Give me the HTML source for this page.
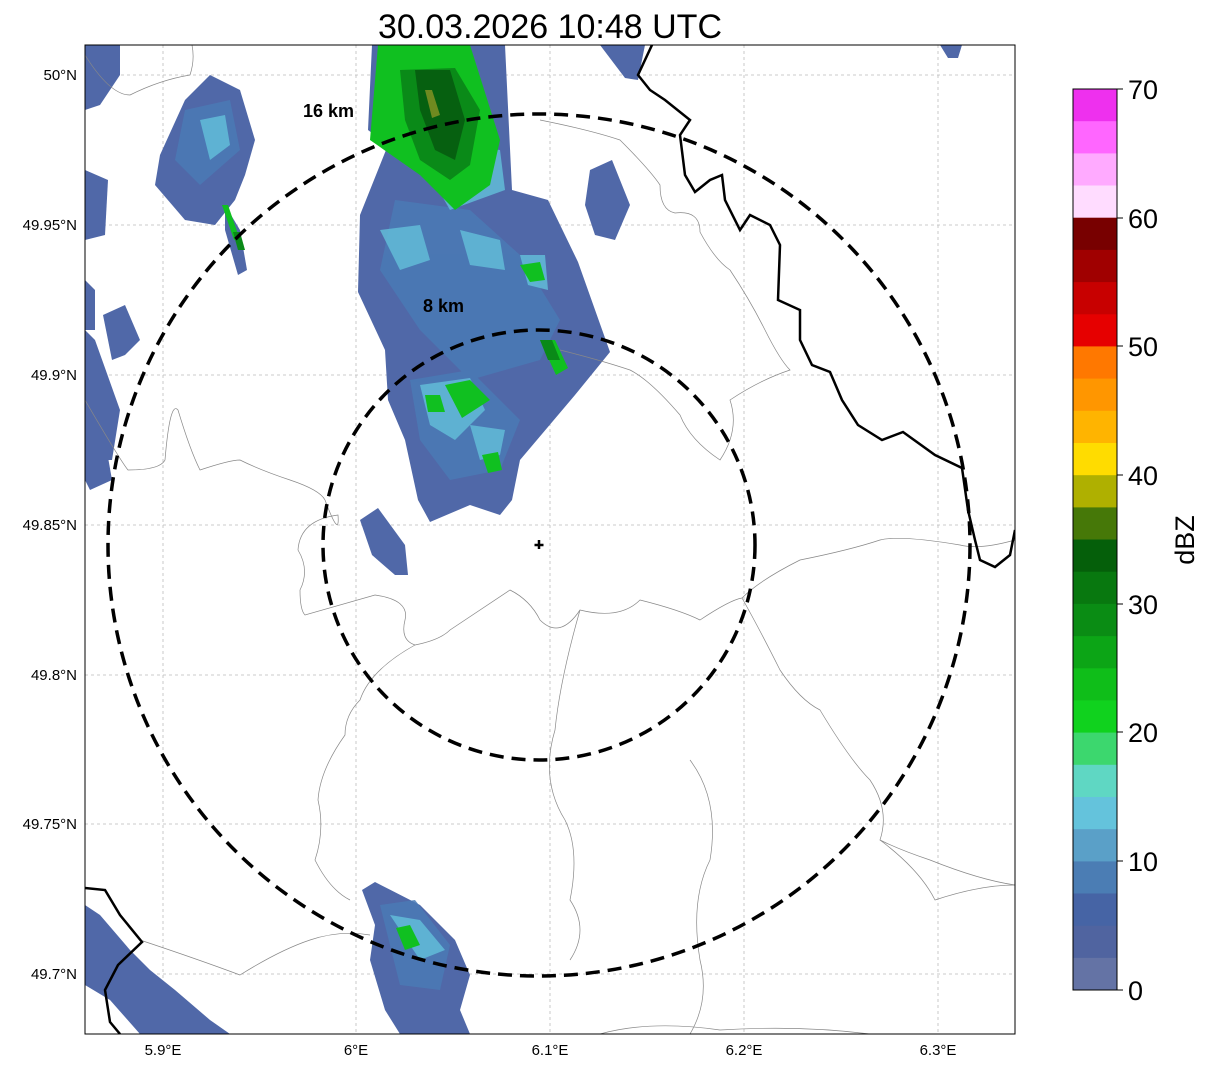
<!DOCTYPE html>
<html><head><meta charset="utf-8"><style>
html,body{margin:0;padding:0;background:#fff;}
svg{display:block;font-family:"Liberation Sans","DejaVu Sans",sans-serif;}
</style></head><body>
<svg width="1207" height="1069" viewBox="0 0 1207 1069" xmlns="http://www.w3.org/2000/svg">
<rect width="1207" height="1069" fill="#fff"/>
<text x="550" y="38" font-size="34" text-anchor="middle" fill="#000">30.03.2026 10:48 UTC</text>
<defs><clipPath id="map"><rect x="85" y="45" width="930" height="989"/></clipPath></defs>
<g clip-path="url(#map)">
<!-- gridlines -->
<g stroke="#bbb" stroke-width="0.8" stroke-dasharray="3,3">
<line x1="163" y1="45" x2="163" y2="1034"/><line x1="356" y1="45" x2="356" y2="1034"/><line x1="550" y1="45" x2="550" y2="1034"/><line x1="744" y1="45" x2="744" y2="1034"/><line x1="938" y1="45" x2="938" y2="1034"/>
<line x1="85" y1="75" x2="1015" y2="75"/><line x1="85" y1="225" x2="1015" y2="225"/><line x1="85" y1="375" x2="1015" y2="375"/><line x1="85" y1="525" x2="1015" y2="525"/><line x1="85" y1="675" x2="1015" y2="675"/><line x1="85" y1="824" x2="1015" y2="824"/><line x1="85" y1="974" x2="1015" y2="974"/>
</g>
<!-- radar blobs -->
<g fill="#5068a8">
<polygon points="372,45 505,45 512,190 548,200 578,262 610,352 575,395 520,460 512,500 500,515 470,505 430,522 418,500 405,440 388,400 385,350 358,292 360,215 388,145 368,130"/>
<polygon points="160,155 185,100 210,75 240,90 255,140 245,175 235,200 215,225 185,220 155,185"/>
<polygon points="225,205 240,230 247,270 238,275 225,230"/>
<polygon points="85,45 120,45 120,75 100,105 85,110"/>
<polygon points="85,170 108,180 105,235 85,240"/>
<polygon points="85,280 95,290 95,330 85,330"/>
<polygon points="85,330 95,340 120,410 112,460 85,460"/>
<polygon points="103,315 125,305 140,340 125,355 112,360"/>
<polygon points="85,420 105,440 112,480 90,490 85,480"/>
<polygon points="360,520 378,508 405,545 408,575 395,575 372,555"/>
<polygon points="362,890 375,882 420,905 455,940 470,975 460,1010 470,1034 400,1034 385,1010 370,960 375,925"/>
<polygon points="85,905 100,915 130,950 150,970 175,990 210,1020 230,1034 140,1034 110,1000 85,985"/>
<polygon points="590,170 612,160 630,205 615,240 595,235 585,205"/>
<polygon points="600,45 645,45 638,80 625,78"/>
<polygon points="940,45 962,45 958,58 948,58"/>
</g>
<g fill="#4a7ab5" opacity="0.85">
<polygon points="395,200 470,210 520,255 560,320 540,360 470,380 420,330 380,270"/>
<polygon points="410,380 470,370 520,420 500,470 450,480 420,440"/>
<polygon points="185,110 230,100 240,150 200,185 175,160"/>
<polygon points="380,905 415,900 450,945 440,990 400,985"/>
</g>
<g fill="#62bcd8" opacity="0.85">
<polygon points="380,230 420,225 430,260 400,270"/>
<polygon points="460,230 500,240 505,270 470,265"/>
<polygon points="420,385 470,378 485,410 455,440 430,425"/>
<polygon points="470,425 505,430 500,455 480,460"/>
<polygon points="200,120 225,115 230,145 210,160"/>
<polygon points="520,255 545,255 548,290 528,285"/>
<polygon points="390,915 420,920 445,950 420,960"/>
<polygon points="410,140 500,150 505,190 450,210"/>
</g>
<g fill="#10c020">
<polygon points="378,45 470,45 500,140 490,185 455,210 420,175 370,140"/>
<polygon points="445,385 470,380 490,400 462,418"/>
<polygon points="425,395 440,395 445,412 428,412"/>
<polygon points="482,455 498,452 502,470 488,473"/>
<polygon points="540,340 555,340 568,368 556,375"/>
<polygon points="222,205 228,205 240,240 234,240"/>
<polygon points="396,928 410,925 420,945 405,950"/>
<polygon points="520,265 540,262 545,280 530,282"/>
</g>
<g fill="#0a8a18">
<polygon points="400,70 455,68 480,110 470,165 450,180 420,160 405,120"/>
<polygon points="540,340 552,340 560,360 548,360"/>
<polygon points="233,232 240,232 245,250 238,250"/>
</g>
<g fill="#066010">
<polygon points="415,70 450,70 465,120 455,160 435,150 420,110"/>
</g>
<polygon points="425,90 432,90 440,115 432,118" fill="#6f8a20"/>
<!-- thin borders -->
<g fill="none" stroke="#888" stroke-width="0.7">
<path d="M85,55 Q110,95 130,95 Q160,80 190,75 Q195,60 192,45"/>
<path d="M85,400 Q120,460 128,470 Q160,470 165,460 Q170,400 178,410 Q190,450 200,470 Q230,460 240,460 Q260,470 290,480 Q320,490 325,500 Q340,540 338,515 Q300,520 298,550 Q310,570 300,590 Q300,610 305,615 Q340,605 375,595 Q410,600 405,620 Q400,640 415,645 Q440,640 450,630 Q480,610 510,590 Q530,600 540,620 Q560,640 580,610 Q620,620 640,600 Q680,610 700,620 Q730,600 742,598"/>
<path d="M540,120 Q590,130 620,140 Q650,170 660,185 Q660,210 675,213 Q700,210 700,232 Q715,260 730,270 Q750,300 765,330 Q780,360 790,370 Q760,380 730,400 Q740,430 720,460 Q690,440 680,415 Q650,380 630,370 Q600,360 560,350"/>
<path d="M742,598 Q760,580 800,560 Q850,550 880,540 Q900,535 960,545 Q980,550 1015,540"/>
<path d="M742,598 Q760,630 780,670 Q800,700 820,710 Q850,760 870,780 Q890,810 880,840 Q900,850 930,860 Q980,880 1015,885"/>
<path d="M415,645 Q370,670 360,700 Q345,715 345,735 Q320,770 318,800 Q325,830 315,860 Q330,890 350,900"/>
<path d="M580,610 Q560,680 555,730 Q540,780 565,820 Q580,850 570,900 Q590,930 570,960"/>
<path d="M690,760 Q720,800 710,860 Q690,900 700,960 Q710,1000 690,1034"/>
<path d="M140,940 Q200,960 240,975 Q280,950 310,940 Q340,930 370,935"/>
<path d="M600,1034 Q650,1020 720,1030 Q800,1025 870,1034"/>
<path d="M880,840 Q920,870 935,900 Q980,885 1015,885"/>
</g>
<!-- thick borders -->
<g fill="none" stroke="#000" stroke-width="2.5">
<path d="M652,45 L638,75 L650,90 L665,100 L690,120 L680,135 L685,175 L695,192 L710,180 L722,175 L725,200 L740,230 L750,215 L770,225 L780,245 L778,300 L800,310 L800,340 L812,365 L830,372 L842,400 L858,425 L882,440 L903,432 L935,455 L962,468 L968,510 L975,540 L980,560 L995,567 L1010,555 L1015,530"/>
<path d="M85,888 L105,890 L120,915 L142,942 L118,965 L105,990 L110,1022 L120,1034"/>
</g>
<!-- circles -->
<g fill="none" stroke="#000" stroke-width="3.5" stroke-dasharray="14,8">
<ellipse cx="539" cy="545" rx="216" ry="215"/>
<ellipse cx="539" cy="545" rx="431" ry="431"/>
</g>
<text x="303" y="117" font-size="18" font-weight="bold">16 km</text>
<text x="423" y="312" font-size="18" font-weight="bold">8 km</text>
<path d="M539,540 v9 M534.5,545 h9" stroke="#000" stroke-width="2.5"/>
</g>
<rect x="85" y="45" width="930" height="989" fill="none" stroke="#000" stroke-width="1"/>
<!-- axis labels -->
<g font-size="15" fill="#000" text-anchor="end">
<text x="77" y="80">50°N</text><text x="77" y="230">49.95°N</text><text x="77" y="380">49.9°N</text><text x="77" y="530">49.85°N</text><text x="77" y="680">49.8°N</text><text x="77" y="829">49.75°N</text><text x="77" y="979">49.7°N</text>
</g>
<g font-size="15" fill="#000" text-anchor="middle">
<text x="163" y="1055">5.9°E</text><text x="356" y="1055">6°E</text><text x="550" y="1055">6.1°E</text><text x="744" y="1055">6.2°E</text><text x="938" y="1055">6.3°E</text>
</g>
<!-- colorbar -->
<g>
<rect x="1073" y="89.0" width="44" height="32.6" fill="#ee30ee"/>
<rect x="1073" y="121.2" width="44" height="32.6" fill="#ff66ff"/>
<rect x="1073" y="153.4" width="44" height="32.6" fill="#ffaaff"/>
<rect x="1073" y="185.5" width="44" height="32.6" fill="#ffdcff"/>
<rect x="1073" y="217.7" width="44" height="32.6" fill="#780000"/>
<rect x="1073" y="249.9" width="44" height="32.6" fill="#a00000"/>
<rect x="1073" y="282.1" width="44" height="32.6" fill="#c80000"/>
<rect x="1073" y="314.3" width="44" height="32.6" fill="#e60000"/>
<rect x="1073" y="346.4" width="44" height="32.6" fill="#ff7800"/>
<rect x="1073" y="378.6" width="44" height="32.6" fill="#ff9600"/>
<rect x="1073" y="410.8" width="44" height="32.6" fill="#ffb400"/>
<rect x="1073" y="443.0" width="44" height="32.6" fill="#ffdc00"/>
<rect x="1073" y="475.2" width="44" height="32.6" fill="#afb000"/>
<rect x="1073" y="507.4" width="44" height="32.6" fill="#467808"/>
<rect x="1073" y="539.5" width="44" height="32.6" fill="#055f0a"/>
<rect x="1073" y="571.7" width="44" height="32.6" fill="#08780f"/>
<rect x="1073" y="603.9" width="44" height="32.6" fill="#0a8c14"/>
<rect x="1073" y="636.1" width="44" height="32.6" fill="#0ca516"/>
<rect x="1073" y="668.3" width="44" height="32.6" fill="#0fbe19"/>
<rect x="1073" y="700.4" width="44" height="32.6" fill="#10d21e"/>
<rect x="1073" y="732.6" width="44" height="32.6" fill="#3cd76e"/>
<rect x="1073" y="764.8" width="44" height="32.6" fill="#5fd7c3"/>
<rect x="1073" y="797.0" width="44" height="32.6" fill="#64c3dc"/>
<rect x="1073" y="829.2" width="44" height="32.6" fill="#5aa0c8"/>
<rect x="1073" y="861.4" width="44" height="32.6" fill="#4b7db4"/>
<rect x="1073" y="893.5" width="44" height="32.6" fill="#4664a5"/>
<rect x="1073" y="925.7" width="44" height="32.6" fill="#5064a0"/>
<rect x="1073" y="957.9" width="44" height="32.1" fill="#6473a5"/>
<rect x="1073" y="89" width="44" height="901" fill="none" stroke="#000" stroke-width="1"/>
<g stroke="#000" stroke-width="1"><line x1="1117" y1="89" x2="1123" y2="89"/><line x1="1117" y1="218" x2="1123" y2="218"/><line x1="1117" y1="346" x2="1123" y2="346"/><line x1="1117" y1="475" x2="1123" y2="475"/><line x1="1117" y1="604" x2="1123" y2="604"/><line x1="1117" y1="732" x2="1123" y2="732"/><line x1="1117" y1="861" x2="1123" y2="861"/><line x1="1117" y1="990" x2="1123" y2="990"/></g>
<g font-size="27" fill="#000">
<text x="1128" y="99">70</text><text x="1128" y="228">60</text><text x="1128" y="356">50</text><text x="1128" y="485">40</text><text x="1128" y="614">30</text><text x="1128" y="742">20</text><text x="1128" y="871">10</text><text x="1128" y="1000">0</text>
</g>
<text transform="translate(1194,540) rotate(-90)" font-size="27" text-anchor="middle">dBZ</text>
</g>
</svg>
</body></html>
